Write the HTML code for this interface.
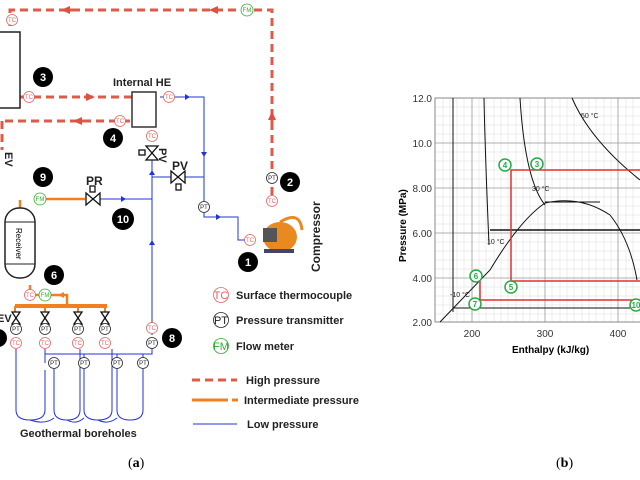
<!DOCTYPE html>
<html><head><style>
body{margin:0;background:#fff;}
svg{display:block;font-family:"Liberation Sans",sans-serif;}
</style></head><body>
<svg width="640" height="480" viewBox="0 0 640 480">
<defs>
<marker id="ar" markerUnits="userSpaceOnUse" markerWidth="9" markerHeight="8" refX="4" refY="4" orient="auto"><path d="M0,0L9,4L0,8z" fill="#e05040"/></marker>
</defs>
<g fill="none">
<g stroke="#e05a48" stroke-width="3" stroke-dasharray="8,5">
<path d="M272,195V10H10V30"/>
<path d="M20,97H135"/>
<path d="M130,121H0"/>
<path d="M2,121V150"/>
</g>
<path d="M74,10l-8,0" stroke="#e05a48" stroke-width="3" marker-end="url(#ar)"/>
<path d="M222,10l-8,0" stroke="#e05a48" stroke-width="3" marker-end="url(#ar)"/>
<path d="M84,97l6,0" stroke="#e05a48" stroke-width="3" marker-end="url(#ar)"/>
<path d="M84,121l-6,0" stroke="#e05a48" stroke-width="3" marker-end="url(#ar)"/>
<path d="M272,122l0,-6" stroke="#e05a48" stroke-width="3" marker-end="url(#ar)"/>
<rect x="-2" y="32" width="22" height="76" stroke="#222" stroke-width="1.5"/>
<rect x="132" y="92" width="24" height="35" stroke="#333" stroke-width="1.5"/>
<g stroke="#2233dd" stroke-width="1">
<path d="M160,97H204V207M204,213V217H238V240H245"/>
<path d="M152,160V335"/>
<path d="M152,177H204"/>
<path d="M100,199H152"/>
<path d="M152,348V354H45V363M84,354V363M117,354V363M143,354V363"/>
<path d="M16,349V410Q16,420 30,420Q45,420 45,410V370"/>
<path d="M45,349V363"/>
<path d="M54,369V410Q54,420 67,420Q80,420 80,410V349"/>
<path d="M84,369V410Q84,420 98,420Q112,420 112,410V349"/>
<path d="M117,369V410Q117,420 130,420Q143,420 143,410V369"/>
<path d="M30,420Q45,425 54,418M67,420Q76,425 84,418M98,420Q108,425 117,418"/>
<path d="M193,424H237"/>
</g>
<path d="M40,199H85" stroke="#f08020" stroke-width="2.5"/>
<path d="M20,200V208" stroke="#f08020" stroke-width="2.5"/>
<path d="M30,285V295H67V305" stroke="#f08020" stroke-width="2.5"/>
<path d="M15,306H107" stroke="#f08020" stroke-width="4"/>
<path d="M15,306V315M45,306V315M78,306V315M105,306V315" stroke="#f08020" stroke-width="2"/>
<path d="M192,400H228" stroke="#f08020" stroke-width="3"/><path d="M232,400H238" stroke="#f08020" stroke-width="3"/>
<path d="M192,380H237" stroke="#e05a48" stroke-width="3" stroke-dasharray="8,5"/>
<rect x="5" y="208" width="30" height="70" rx="14" stroke="#222" stroke-width="1.5"/>
<path d="M5,222H35M5,264H35" stroke="#222"/>
</g>
<g fill="#2233dd">
<path d="M185,94l5,3l-5,3z"/><path d="M201,152l3,5l3,-5z"/><path d="M149,175l3,-5l3,5z"/>
<path d="M121,196l5,3l-5,3z"/><path d="M216,214l5,3l-5,3z"/><path d="M149,245l3,-5l3,5z"/>
</g>
<path d="M58,295l6,-3v6z" fill="#f08020"/>
<g stroke="#111" stroke-width="1.3" fill="#fff">
<path d="M146,146L158,146L146,160L158,160z"/><rect x="139" y="150" width="6" height="5"/>
<path d="M171,171L185,183L185,171L171,183z"/><rect x="176" y="184" width="5" height="6"/>
<path d="M86,193L100,205L100,193L86,205z"/><rect x="90" y="186" width="5" height="6"/>
<path d="M12,312L20,312L12,324L20,324z"/><path d="M41,312L49,312L41,324L49,324z"/><path d="M74,312L82,312L74,324L82,324z"/><path d="M101,312L109,312L101,324L109,324z"/>
</g>
<ellipse cx="280" cy="237" rx="17" ry="15" fill="#e88a20"/>
<rect x="263" y="228" width="14" height="14" fill="#555"/>
<path d="M280,222Q300,210 302,230" stroke="#e88a20" stroke-width="3" fill="none"/>
<rect x="264" y="249" width="30" height="4" fill="#446"/>
<g stroke-width="0.8" fill="#fff">
<g stroke="#d66"><circle cx="12" cy="20" r="5.5"/><circle cx="29" cy="97" r="5.5"/><circle cx="169" cy="97" r="5.5"/><circle cx="120" cy="121" r="5.5"/><circle cx="152" cy="136" r="5.5"/><circle cx="272" cy="201" r="5.5"/><circle cx="250" cy="240" r="5.5"/><circle cx="30" cy="295" r="5.5"/><circle cx="152" cy="328" r="5.5"/><circle cx="16" cy="343" r="5.5"/><circle cx="45" cy="343" r="5.5"/><circle cx="78" cy="343" r="5.5"/><circle cx="105" cy="343" r="5.5"/><circle cx="221" cy="295" r="7.5"/></g>
<g stroke="#222"><circle cx="272" cy="178" r="5.5"/><circle cx="204" cy="207" r="5.5"/><circle cx="152" cy="343" r="5.5"/><circle cx="16" cy="329" r="5.5"/><circle cx="45" cy="329" r="5.5"/><circle cx="78" cy="329" r="5.5"/><circle cx="105" cy="329" r="5.5"/><circle cx="54" cy="363" r="5.5"/><circle cx="84" cy="363" r="5.5"/><circle cx="117" cy="363" r="5.5"/><circle cx="143" cy="363" r="5.5"/><circle cx="221" cy="320" r="7.5"/></g>
<g stroke="#3a3"><circle cx="247" cy="10" r="6"/><circle cx="40" cy="199" r="6"/><circle cx="45" cy="295" r="6"/><circle cx="221" cy="346" r="7.5"/></g>
</g>
<g font-size="6" text-anchor="middle">
<g fill="#d66"><text x="12" y="22">TC</text><text x="29" y="99">TC</text><text x="169" y="99">TC</text><text x="120" y="123">TC</text><text x="152" y="138">TC</text><text x="272" y="203">TC</text><text x="250" y="242">TC</text><text x="30" y="297">TC</text><text x="152" y="330">TC</text><text x="16" y="345">TC</text><text x="45" y="345">TC</text><text x="78" y="345">TC</text><text x="105" y="345">TC</text><text x="221" y="299" font-size="11">TC</text></g>
<g fill="#222"><text x="272" y="180">PT</text><text x="204" y="209">PT</text><text x="152" y="345">PT</text><text x="16" y="331">PT</text><text x="45" y="331">PT</text><text x="78" y="331">PT</text><text x="105" y="331">PT</text><text x="54" y="365">PT</text><text x="84" y="365">PT</text><text x="117" y="365">PT</text><text x="143" y="365">PT</text><text x="221" y="324" font-size="11">PT</text></g>
<g fill="#3a3"><text x="247" y="12">FM</text><text x="40" y="201">FM</text><text x="45" y="297">FM</text><text x="221" y="350" font-size="11">FM</text></g>
</g>
<g font-size="11" font-weight="bold" text-anchor="middle">
<circle cx="43" cy="77" r="10"/><circle cx="113" cy="138" r="10"/><circle cx="43" cy="177" r="10"/><circle cx="123" cy="219" r="11"/><circle cx="290" cy="182" r="10"/><circle cx="248" cy="262" r="10"/><circle cx="54" cy="275" r="10"/><circle cx="172" cy="338" r="10"/><circle cx="-2" cy="338" r="9"/>
<g fill="#fff"><text x="43" y="81">3</text><text x="113" y="142">4</text><text x="43" y="181">9</text><text x="123" y="223">10</text><text x="290" y="186">2</text><text x="248" y="266">1</text><text x="54" y="279">6</text><text x="172" y="342">8</text></g>
</g>
<g font-size="11" font-weight="bold" fill="#222">
<text x="113" y="86">Internal HE</text>
<text x="86" y="185" font-size="12">PR</text>
<text x="172" y="170" font-size="12">PV</text>
<text transform="translate(159,148) rotate(90)" font-size="11">PV</text>
<text transform="translate(5,152) rotate(90)" font-size="11">EV</text>
<text x="-3" y="322" font-size="11">EV</text>
<text transform="translate(320,272) rotate(-90)" font-size="12">Compressor</text>
<text x="236" y="299">Surface thermocouple</text>
<text x="236" y="324">Pressure transmitter</text>
<text x="236" y="350">Flow meter</text>
<text x="246" y="384">High pressure</text>
<text x="244" y="404">Intermediate pressure</text>
<text x="247" y="428">Low pressure</text>
<text x="20" y="437">Geothermal boreholes</text>
</g>
<text transform="translate(16,228) rotate(90)" font-size="8">Receiver</text>
<text x="128" y="467" font-size="14" font-family="Liberation Serif">(<tspan font-weight="bold">a</tspan>)</text>
<text x="556" y="467" font-size="14" font-family="Liberation Serif">(<tspan font-weight="bold">b</tspan>)</text>
<g stroke="#ddd" stroke-width="0.5">
<path d="M443,98V322M450,98V322M457,98V322M464,98V322M479,98V322M486,98V322M494,98V322M501,98V322M508,98V322M516,98V322M523,98V322M530,98V322M538,98V322M552,98V322M560,98V322M567,98V322M574,98V322M582,98V322M589,98V322M596,98V322M604,98V322M611,98V322M626,98V322M633,98V322"/>
<path d="M435,107H640M435,116H640M435,125H640M435,134H640M435,152H640M435,161H640M435,170H640M435,179H640M435,197H640M435,206H640M435,215H640M435,224H640M435,242H640M435,251H640M435,260H640M435,269H640M435,287H640M435,296H640M435,305H640M435,314H640"/>
</g>
<g stroke="#999" stroke-width="0.8">
<path d="M472,98V322M545,98V322M618,98V322"/>
<path d="M435,143H640M435,188H640M435,233H640M435,278H640"/>
</g>
<rect x="435" y="98" width="210" height="224" fill="none" stroke="#888"/>
<g stroke="#111" fill="none" stroke-width="1">
<path d="M453,98V312"/>
<path d="M484,98Q485,150 489,245"/>
<path d="M520,98Q525,180 545,205"/>
<path d="M572,98Q590,140 640,180"/>
<path d="M440,322L490,270Q520,220 545,203Q580,195 610,215Q630,240 637,280"/>
<path d="M545,202H600"/>
<path d="M490,230H640" stroke-width="1.5"/>
<path d="M453,308H640"/>
</g>
<g stroke="#e03030" fill="none" stroke-width="1.5">
<path d="M640,170H511V281H640"/>
<path d="M480,281V300H640"/>
</g>
<g font-size="7" fill="#222">
<text x="581" y="118">50 °C</text><text x="532" y="191">30 °C</text><text x="487" y="244">10 °C</text><text x="450" y="297">-10 °C</text>
</g>
<g stroke="#2a4" stroke-width="1.5" fill="#fff">
<circle cx="505" cy="165" r="6"/><circle cx="537" cy="164" r="6"/><circle cx="476" cy="276" r="6"/><circle cx="511" cy="287" r="6"/><circle cx="475" cy="304" r="6"/><circle cx="636" cy="305" r="6"/>
</g>
<g font-size="8" font-weight="bold" fill="#2a4" text-anchor="middle">
<text x="505" y="168">4</text><text x="537" y="167">3</text><text x="476" y="279">6</text><text x="511" y="290">5</text><text x="475" y="307">7</text><text x="636" y="308">10</text>
</g>
<g font-size="10" fill="#333" text-anchor="end">
<text x="432" y="102">12.0</text><text x="432" y="147">10.0</text><text x="432" y="192">8.00</text><text x="432" y="237">6.00</text><text x="432" y="282">4.00</text><text x="432" y="326">2.00</text>
</g>
<g font-size="10" fill="#333" text-anchor="middle">
<text x="472" y="337">200</text><text x="545" y="337">300</text><text x="618" y="337">400</text>
</g>
<text x="512" y="353" font-size="10" font-weight="bold">Enthalpy (kJ/kg)</text>
<text transform="translate(406,262) rotate(-90)" font-size="10" font-weight="bold">Pressure (MPa)</text>
</svg>
</body></html>
